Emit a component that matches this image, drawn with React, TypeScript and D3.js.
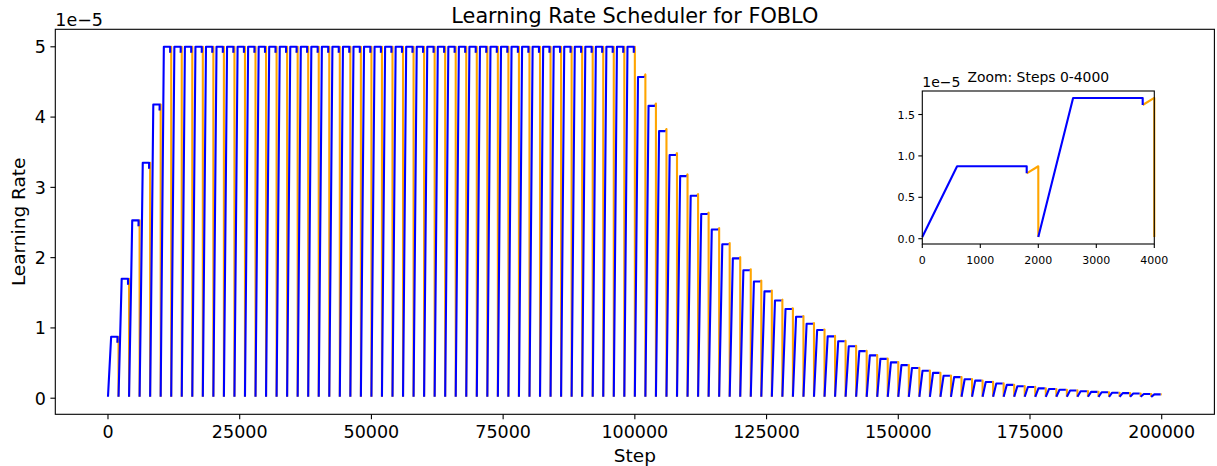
import React, { useEffect, useRef } from 'react';
import * as d3 from 'd3';

const WIDTH = 1217;
const HEIGHT = 466;
const FONT = '"DejaVu Sans", Verdana, sans-serif';

// one cycle of the schedule, in steps
const cycleLength = 2000;
const warmupEnd = 600;
const holdEnd = 1800;
const cycleStartLR = 0.02; // x1e-5

// peak learning rate of every cycle, x1e-5
const warmupPeaks = [0.875, 1.70, 2.53, 3.35, 4.18];
const flatPeaks = [
  5.0, 5.0, 5.0, 5.0, 5.0, 5.0, 5.0, 5.0, 5.0, 5.0,
  5.0, 5.0, 5.0, 5.0, 5.0, 5.0, 5.0, 5.0, 5.0, 5.0,
  5.0, 5.0, 5.0, 5.0, 5.0, 5.0, 5.0, 5.0, 5.0, 5.0,
  5.0, 5.0, 5.0, 5.0, 5.0, 5.0, 5.0, 5.0, 5.0, 5.0,
  5.0, 5.0, 5.0, 5.0, 5.0,
];
const decayPeaks = [
  4.57, 4.16, 3.80, 3.46, 3.16, 2.88, 2.62, 2.40, 2.19, 1.99,
  1.82, 1.66, 1.52, 1.39, 1.27, 1.16, 1.06, 0.97, 0.88, 0.81,
  0.74, 0.67, 0.61, 0.56, 0.51, 0.47, 0.43, 0.39, 0.36, 0.32,
  0.30, 0.27, 0.25, 0.23, 0.21, 0.19, 0.17, 0.16, 0.14, 0.13,
  0.12, 0.11, 0.10, 0.09, 0.085, 0.078, 0.072, 0.066, 0.06, 0.055,
];

// orange hand-over phase: dip below the peak before decay, slight rise during decay
const handoverDipLR = 0.085;
const decayRiseFrac = 0.008;

const xTicks = [0, 25000, 50000, 75000, 100000, 125000, 150000, 175000, 200000];
const yTicks = [0, 1, 2, 3, 4, 5];
const insetXTicks = [0, 1000, 2000, 3000, 4000];
const insetYTicks = [0, 0.5, 1.0, 1.5];

type Pt = [number, number];

function buildSegments() {
  const peaks = [...warmupPeaks, ...flatPeaks, ...decayPeaks];
  const nonDecay = warmupPeaks.length + flatPeaks.length;
  const blue: Pt[][] = [];
  const orange: Pt[][] = [];
  peaks.forEach((p, i) => {
    const s = i * cycleLength;
    const from = i >= nonDecay ? p : p - handoverDipLR;
    const to = i >= nonDecay ? p * (1 + decayRiseFrac) : p;
    blue.push([[s, cycleStartLR], [s + warmupEnd, p], [s + holdEnd, p], [s + holdEnd, from]]);
    const o: Pt[] = [[s + holdEnd, from], [s + cycleLength, to]];
    if (i < peaks.length - 1) o.push([s + cycleLength, cycleStartLR]);
    orange.push(o);
  });
  return { blue, orange };
}

// matplotlib style 5% margins
function padded(ext: [number, number]): [number, number] {
  const m = (ext[1] - ext[0]) * 0.05;
  return [ext[0] - m, ext[1] + m];
}

export default function App() {
  const svgRef = useRef<SVGSVGElement>(null);

  useEffect(() => {
    if (!svgRef.current) return;
    const svg = d3.select(svgRef.current);
    svg.selectAll('*').remove();

    const { blue, orange } = buildSegments();
    const allPts = [...blue.flat(), ...orange.flat()];

    // ---------- main axes ----------
    const m = { left: 55.3, right: 1214.4, top: 29.3, bottom: 414.3 };
    const x = d3.scaleLinear()
      .domain(padded(d3.extent(allPts, d => d[0]) as [number, number]))
      .range([m.left, m.right]);
    const y = d3.scaleLinear()
      .domain(padded(d3.extent(allPts, d => d[1]) as [number, number]))
      .range([m.bottom, m.top]);

    svg.append('rect')
      .attr('width', WIDTH).attr('height', HEIGHT).attr('fill', '#fff');

    const line = d3.line<Pt>().x(d => x(d[0])).y(d => y(d[1]));
    const g = svg.append('g');
    g.selectAll('.o').data(orange).enter().append('path')
      .attr('d', line).attr('fill', 'none').attr('stroke', '#ffa500')
      .attr('stroke-width', 2.1).attr('stroke-linejoin', 'round');
    g.selectAll('.b').data(blue).enter().append('path')
      .attr('d', line).attr('fill', 'none').attr('stroke', '#0000ff')
      .attr('stroke-width', 2.1).attr('stroke-linejoin', 'round');

    svg.append('rect')
      .attr('x', m.left).attr('y', m.top)
      .attr('width', m.right - m.left).attr('height', m.bottom - m.top)
      .attr('fill', 'none').attr('stroke', '#000').attr('stroke-width', 1.1);

    xTicks.forEach(t => {
      svg.append('line')
        .attr('x1', x(t)).attr('x2', x(t)).attr('y1', m.bottom).attr('y2', m.bottom + 4.9)
        .attr('stroke', '#000').attr('stroke-width', 1.1);
      svg.append('text')
        .attr('x', x(t)).attr('y', 437.5)
        .attr('text-anchor', 'middle').attr('font-size', 17.5).attr('font-family', FONT)
        .text(String(t));
    });
    yTicks.forEach(t => {
      svg.append('line')
        .attr('x1', m.left - 4.9).attr('x2', m.left).attr('y1', y(t)).attr('y2', y(t))
        .attr('stroke', '#000').attr('stroke-width', 1.1);
      svg.append('text')
        .attr('x', 46).attr('y', y(t) + 6.4)
        .attr('text-anchor', 'end').attr('font-size', 17.5).attr('font-family', FONT)
        .text(String(t));
    });

    svg.append('text')
      .attr('x', m.left).attr('y', 26)
      .attr('font-size', 17.5).attr('font-family', FONT)
      .text('1e\u22125');
    svg.append('text')
      .attr('x', (m.left + m.right) / 2).attr('y', 23.3)
      .attr('text-anchor', 'middle').attr('font-size', 20.8).attr('font-family', FONT)
      .text('Learning Rate Scheduler for FOBLO');
    svg.append('text')
      .attr('x', (m.left + m.right) / 2).attr('y', 461.5)
      .attr('text-anchor', 'middle').attr('font-size', 18.5).attr('font-family', FONT)
      .text('Step');
    svg.append('text')
      .attr('transform', `translate(24.5,${(m.top + m.bottom) / 2}) rotate(-90)`)
      .attr('text-anchor', 'middle').attr('font-size', 18.5).attr('font-family', FONT)
      .text('Learning Rate');

    // ---------- inset: first two cycles ----------
    const im = { left: 922.3, right: 1154.3, top: 91, bottom: 244 };
    const iBlue = blue.slice(0, 2);
    const iOrange = orange.slice(0, 2);
    const iPts = [...iBlue.flat(), ...iOrange.flat()];
    const ix = d3.scaleLinear().domain([0, 4000]).range([im.left, im.right]);
    const iy = d3.scaleLinear()
      .domain(padded(d3.extent(iPts, d => d[1]) as [number, number]))
      .range([im.bottom, im.top]);
    const iline = d3.line<Pt>().x(d => ix(d[0])).y(d => iy(d[1]));

    svg.append('rect')
      .attr('x', im.left).attr('y', im.top)
      .attr('width', im.right - im.left).attr('height', im.bottom - im.top)
      .attr('fill', '#fff');
    const ig = svg.append('g');
    ig.selectAll('.io').data(iOrange).enter().append('path')
      .attr('d', iline).attr('fill', 'none').attr('stroke', '#ffa500')
      .attr('stroke-width', 2.1).attr('stroke-linejoin', 'round');
    ig.selectAll('.ib').data(iBlue).enter().append('path')
      .attr('d', iline).attr('fill', 'none').attr('stroke', '#0000ff')
      .attr('stroke-width', 2.1).attr('stroke-linejoin', 'round');
    svg.append('rect')
      .attr('x', im.left).attr('y', im.top)
      .attr('width', im.right - im.left).attr('height', im.bottom - im.top)
      .attr('fill', 'none').attr('stroke', '#000').attr('stroke-width', 1.1);

    insetXTicks.forEach(t => {
      svg.append('line')
        .attr('x1', ix(t)).attr('x2', ix(t)).attr('y1', im.bottom).attr('y2', im.bottom + 4)
        .attr('stroke', '#000').attr('stroke-width', 1.1);
      svg.append('text')
        .attr('x', ix(t)).attr('y', 264)
        .attr('text-anchor', 'middle').attr('font-size', 11).attr('font-family', FONT)
        .text(String(t));
    });
    insetYTicks.forEach(t => {
      svg.append('line')
        .attr('x1', im.left - 4).attr('x2', im.left).attr('y1', iy(t)).attr('y2', iy(t))
        .attr('stroke', '#000').attr('stroke-width', 1.1);
      svg.append('text')
        .attr('x', 915).attr('y', iy(t) + 4)
        .attr('text-anchor', 'end').attr('font-size', 11).attr('font-family', FONT)
        .text(t.toFixed(1));
    });
    svg.append('text')
      .attr('x', im.left).attr('y', 86.7)
      .attr('font-size', 14).attr('font-family', FONT)
      .text('1e\u22125');
    svg.append('text')
      .attr('x', (im.left + im.right) / 2).attr('y', 82)
      .attr('text-anchor', 'middle').attr('font-size', 13.9).attr('font-family', FONT)
      .text('Zoom: Steps 0-4000');
  }, []);

  return (
    <svg
      ref={svgRef}
      width={WIDTH}
      height={HEIGHT}
      style={{ position: 'absolute', left: 0, top: 0, display: 'block' }}
    />
  );
}
